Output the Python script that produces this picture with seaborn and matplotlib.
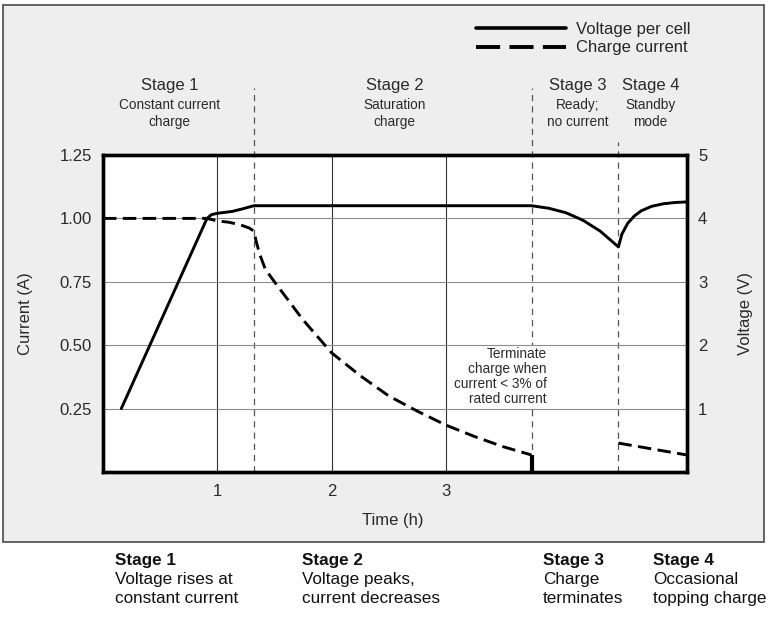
import matplotlib.pyplot as plt
import seaborn as sns
from matplotlib.lines import Line2D
from matplotlib.patches import Rectangle

# voltage per cell (V) - right axis
volt_time = [0.16, 0.91, 0.95, 1.0, 1.13, 1.22, 1.32, 2.0, 3.0, 3.75,
             3.9, 4.05, 4.2, 4.35, 4.51, 4.54, 4.59, 4.65, 4.71, 4.8,
             4.9, 5.0, 5.11]
volt_value = [1.0, 4.0, 4.06, 4.08, 4.11, 4.15, 4.2, 4.2, 4.2, 4.2,
              4.16, 4.09, 3.97, 3.8, 3.55, 3.75, 3.92, 4.04, 4.12, 4.19,
              4.23, 4.25, 4.26]

# charge current (A) - left axis, stages 1-2
amp_time = [0.0, 0.91, 1.0, 1.1, 1.2, 1.28, 1.32, 1.34, 1.37, 1.42,
            1.5, 1.6, 1.75, 2.0, 2.25, 2.5, 2.75, 3.0, 3.25, 3.5, 3.75]
amp_value = [1.0, 1.0, 0.99, 0.985, 0.975, 0.962, 0.95, 0.91, 0.86, 0.8,
             0.75, 0.69, 0.6, 0.47, 0.38, 0.3, 0.24, 0.185, 0.14, 0.1, 0.067]

# topping charge current, stage 4
topup_time = [4.51, 5.11]
topup_value = [0.114, 0.067]

stage_edges = [1.32, 3.75, 4.51]
stage_names = ["Stage 1", "Stage 2", "Stage 3", "Stage 4"]
stage_notes = ["Constant current\ncharge", "Saturation\ncharge",
               "Ready;\nno current", "Standby\nmode"]
stage_captions = ["Voltage rises at\nconstant current",
                  "Voltage peaks,\ncurrent decreases",
                  "Charge\nterminates",
                  "Occasional\ntopping charge"]
time_ticks = [1, 2, 3]
current_ticks = [0.25, 0.5, 0.75, 1.0, 1.25]
voltage_ticks = [1, 2, 3, 4, 5]
note_text = "Terminate\ncharge when\ncurrent < 3% of\nrated current"

sns.set_style("white")
plt.rcParams['font.family'] = ['Liberation Sans', 'DejaVu Sans']

W, H = 775, 620
t_max = 5.11
txt = '#2a2a2a'
fig = plt.figure(figsize=(W / 100, H / 100), dpi=100)
fig.add_artist(Rectangle((3 / W, 1 - 542 / H), 761 / W, 537 / H,
                         transform=fig.transFigure, facecolor='#eeeeee',
                         edgecolor='#4a4a4a', lw=1.2, zorder=-5))

ax = fig.add_axes([103 / W, 1 - 472 / H, 584 / W, 317 / H])
ax.set_facecolor('white')
ax.set_xlim(0, t_max)
ax.set_ylim(0, 1.25)
ax2 = ax.twinx()
ax2.set_ylim(0, 5)

# grid
for y in current_ticks[:-1]:
    ax.axhline(y, color='#8c8c8c', lw=0.8, zorder=2)
for t in time_ticks:
    ax.axvline(t, color='#333333', lw=0.8, zorder=0)

# stage boundaries, running up into the header
ax.vlines(stage_edges, 0, [1.515, 1.515, 1.30], colors='#555555', lw=0.9,
          linestyles=(0, (5, 4)), clip_on=False, zorder=1)

sns.lineplot(x=volt_time, y=volt_value, ax=ax2, color='black', lw=2.1,
             sort=False, estimator=None)
sns.lineplot(x=amp_time, y=amp_value, ax=ax, color='black', lw=2.1,
             sort=False, estimator=None, linestyle=(0, (4.6, 2.2)), zorder=3)
sns.lineplot(x=topup_time, y=topup_value, ax=ax, color='black', lw=2.1,
             sort=False, estimator=None, linestyle=(0, (4.6, 2.2)), zorder=3)
ax.vlines(amp_time[-1], 0, amp_value[-1], colors='black', lw=3, zorder=3)

for a in (ax, ax2):
    for s in a.spines.values():
        s.set_linewidth(2.4)
        s.set_color('black')

ax.set_xticks(time_ticks)
ax.set_yticks(current_ticks)
ax.set_yticklabels([f"{v:.2f}" for v in current_ticks])
ax.tick_params(length=0, labelsize=12, labelcolor=txt)
ax.tick_params(axis='y', pad=8)
ax.tick_params(axis='x', pad=9)
ax2.set_yticks(voltage_ticks)
ax2.tick_params(length=0, labelsize=12, labelcolor=txt, pad=8)

ax.set_ylabel("Current (A)", fontsize=12, color=txt)
ax.yaxis.set_label_coords(-0.12, 0.5)
ax2.set_ylabel("Voltage (V)", fontsize=12, color=txt)
ax2.yaxis.set_label_coords(1.087, 0.5)
ax.set_xlabel("Time (h)", fontsize=12, color=txt)
ax.xaxis.set_label_coords(0.497, -0.129)

# stage headers
header_x = [0.58, 2.55, 4.15, 4.79]
for x, name, note in zip(header_x, stage_names, stage_notes):
    ax.text(x, 1.526, name, ha='center', va='center', fontsize=12,
            color=txt, clip_on=False)
    ax.text(x, 1.415, note, ha='center', va='center', fontsize=9.8,
            color=txt, clip_on=False, linespacing=1.28)

# white box hides the stage boundary behind the note
ax.text(amp_time[-1] + 0.13, 0.376, note_text, ha='right', va='center',
        fontsize=9.8, color=txt, linespacing=1.08, zorder=1.5,
        bbox=dict(facecolor='white', edgecolor='none', pad=1.5))

handles = [Line2D([], [], color='black', lw=2.6),
           Line2D([], [], color='black', lw=2.8, linestyle=(0, (6.2, 2.4)))]
fig.legend(handles, ["Voltage per cell", "Charge current"], loc='upper left',
           bbox_to_anchor=(476 / W, 1 - 22 / H), frameon=False,
           handlelength=5.4, handletextpad=0.6, labelspacing=0.2,
           borderpad=0, borderaxespad=0, fontsize=12)

# captions under the panel
for x, name, cap in zip([115, 302, 543, 653], stage_names, stage_captions):
    fig.text(x / W, 1 - 553 / H, name, fontsize=12.3, fontweight='bold',
             va='top', color='#111111')
    fig.text(x / W, 1 - 572 / H, cap, fontsize=12.3, va='top',
             linespacing=1.3, color='#111111')

fig.savefig("out.png", dpi=100)
